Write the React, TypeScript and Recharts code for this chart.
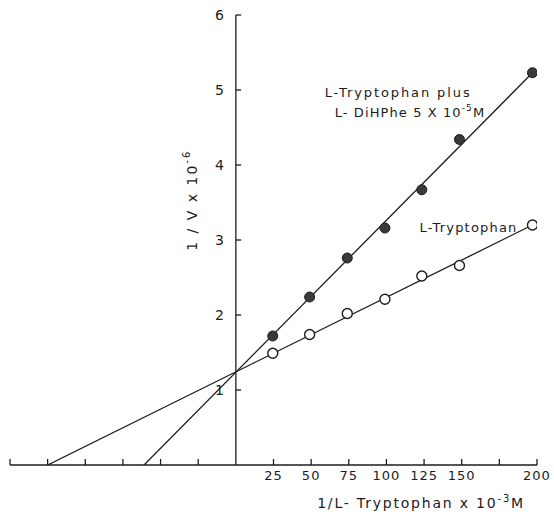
import React from 'react';
import {
  ScatterChart,
  Scatter,
  XAxis,
  YAxis,
  ReferenceLine,
  ReferenceDot,
} from 'recharts';

// 1 / [L-Tryptophan] x 10^-3 M
const concentrations = [24.5, 49, 74, 99, 123.5, 148.5, 197];
// 1/V x 10^-6, L-Tryptophan alone (open circles)
const tryptophanOnly = [1.49, 1.74, 2.02, 2.21, 2.52, 2.66, 3.2];
// 1/V x 10^-6, L-Tryptophan plus L-DiHPhe 5x10^-5 M (filled circles)
const withDiHPhe = [1.72, 2.24, 2.76, 3.16, 3.67, 4.34, 5.23];

// fitted straight lines (x-intercept to last point)
const tryptophanFitX = [-125, 197];
const tryptophanFitY = [0, 3.2];
const diHPheFitX = [-61, 197];
const diHPheFitY = [0, 5.23];

const xTicks = [-150, -125, -100, -75, -50, -25, 0, 25, 50, 75, 100, 125, 150, 175, 200];
const xTickLabels = [25, 50, 75, 100, 125, 150, 200];
const yTicks = [1, 2, 3, 4, 5, 6];

const INK = '#1c1c1c';
const FONT = '"DejaVu Sans", sans-serif';

const openData = concentrations.map((x, i) => ({ x, y: tryptophanOnly[i] }));
const filledData = concentrations.map((x, i) => ({ x, y: withDiHPhe[i] }));
const fitOpen = tryptophanFitX.map((x, i) => ({ x, y: tryptophanFitY[i] }));
const fitFilled = diHPheFitX.map((x, i) => ({ x, y: diHPheFitY[i] }));

const XTick = (props: any) => {
  const { x, y, payload } = props;
  const v = payload.value;
  const show = xTickLabels.includes(v);
  return (
    <g>
      {v !== 0 && <line x1={x} y1={y} x2={x} y2={y - 6} stroke={INK} strokeWidth={1.3} />}
      {show && (
        <text
          x={x}
          y={y + 15}
          textAnchor="middle"
          fontFamily={FONT}
          fontSize={13}
          letterSpacing={1}
          fill={INK}
        >
          {v}
        </text>
      )}
    </g>
  );
};

const OpenDot = (props: any) => {
  const { cx, cy } = props;
  return <circle cx={cx} cy={cy} r={5} fill="#fff" stroke={INK} strokeWidth={1.4} />;
};
const FilledDot = (props: any) => {
  const { cx, cy } = props;
  return <circle cx={cx} cy={cy} r={5} fill="#3a3a3a" stroke={INK} strokeWidth={1} />;
};
const NoDot = () => <g />;

const YLabel = (props: any) => {
  const vb = props.viewBox || {};
  const x = vb.x;
  const y = vb.y;
  return (
    <text
      x={x}
      y={y}
      transform={`rotate(-90 ${x} ${y})`}
      textAnchor="middle"
      dominantBaseline="middle"
      fontFamily={FONT}
      fontSize={14}
      letterSpacing={2}
      fill={INK}
    >
      1 / V x 10
      <tspan dy={-6} fontSize={10}>-6</tspan>
    </text>
  );
};

const Annot1 = (props: any) => {
  const vb = props.viewBox || {};
  return (
    <g>
      <text x={vb.x} y={vb.y} fontFamily={FONT} fontSize={13} letterSpacing={1.9} fill={INK}>
        L-Tryptophan plus
      </text>
      <text x={vb.x + 10} y={vb.y + 20} fontFamily={FONT} fontSize={13} letterSpacing={1.1} fill={INK}>
        L- DiHPhe 5 X 10
        <tspan dy={-6} fontSize={9}>-5</tspan>
        <tspan dy={6}>M</tspan>
      </text>
    </g>
  );
};

const Annot2 = (props: any) => {
  const vb = props.viewBox || {};
  return (
    <text x={vb.x} y={vb.y} fontFamily={FONT} fontSize={13} letterSpacing={1.2} fill={INK}>
      L-Tryptophan
    </text>
  );
};

const XLabel = (props: any) => {
  const vb = props.viewBox || {};
  return (
    <text x={vb.x} y={vb.y} fontFamily={FONT} fontSize={14} letterSpacing={1.8} fill={INK}>
      1/L- Tryptophan x 10
      <tspan dy={-6} fontSize={10}>-3</tspan>
      <tspan dy={6}>M</tspan>
    </text>
  );
};

export default function App() {
  return (
    <div style={{ position: 'absolute', left: 0, top: 0, background: '#fff' }}>
      <ScatterChart width={554} height={514} margin={{ top: 15, right: 17, bottom: 19, left: 10 }}>
        <XAxis
          type="number"
          dataKey="x"
          domain={[-150, 200]}
          ticks={xTicks}
          interval={0}
          allowDataOverflow
          height={30}
          tickSize={0}
          tickMargin={0}
          tick={<XTick />}
          axisLine={{ stroke: INK, strokeWidth: 1.3 }}
          tickLine={false}
        />
        <YAxis type="number" dataKey="y" domain={[0, 6]} hide allowDataOverflow />
        <ReferenceLine x={0} stroke={INK} strokeWidth={1.3} />
        {yTicks.map((k) => (
          <ReferenceLine
            key={k}
            segment={[{ x: 0, y: k }, { x: 3.5, y: k }]}
            stroke={INK}
            strokeWidth={1.3}
            label={{
              value: String(k),
              position: 'left',
              offset: 12,
              fill: INK,
              fontSize: 14,
              fontFamily: FONT,
            }}
          />
        ))}
        <Scatter
          data={fitOpen}
          line={{ stroke: INK, strokeWidth: 1.3 }}
          shape={<NoDot />}
          isAnimationActive={false}
        />
        <Scatter
          data={fitFilled}
          line={{ stroke: INK, strokeWidth: 1.3 }}
          shape={<NoDot />}
          isAnimationActive={false}
        />
        <Scatter data={openData} shape={<OpenDot />} isAnimationActive={false} />
        <Scatter data={filledData} shape={<FilledDot />} isAnimationActive={false} />
        <ReferenceDot x={-28.6} y={3.53} r={0} fill="none" stroke="none" label={<YLabel />} />
        <ReferenceDot x={59} y={4.91} r={0} fill="none" stroke="none" label={<Annot1 />} />
        <ReferenceDot x={122} y={3.11} r={0} fill="none" stroke="none" label={<Annot2 />} />
        <ReferenceDot x={54} y={-0.57} r={0} fill="none" stroke="none" label={<XLabel />} ifOverflow="visible" />
      </ScatterChart>
    </div>
  );
}
